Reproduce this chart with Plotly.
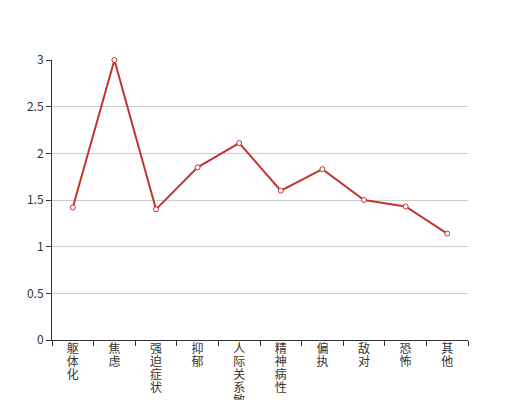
import plotly.graph_objects as go

categories = ["躯体化", "焦虑", "强迫症状", "抑郁", "人际关系敏感", "精神病性", "偏执", "敌对", "恐怖", "其他"]
values = [1.42, 3.0, 1.40, 1.85, 2.11, 1.60, 1.83, 1.50, 1.43, 1.14]
y_ticks = [0, 0.5, 1, 1.5, 2, 2.5, 3]
y_labels = ["0", "0.5", "1", "1.5", "2", "2.5", "3"]

ticktext = ["<br>".join('<span style="font-size:12px">' + ch + '</span>' for ch in c) for c in categories]

fig = go.Figure()
fig.add_trace(go.Scatter(
    x=categories, y=values, mode="lines+markers",
    line=dict(color="#c23531", width=2),
    marker=dict(symbol="circle", size=5, color="white", line=dict(color="#c23531", width=1)),
    hoverinfo="skip", cliponaxis=False,
))
fig.update_layout(
    width=520, height=400,
    margin=dict(l=44, r=60, t=52, b=68, autoexpand=False),
    plot_bgcolor="white", paper_bgcolor="white",
    showlegend=False,
    font=dict(family="Noto Sans CJK SC, Noto Sans, sans-serif", size=12, color="#333"),
)
fig.update_xaxes(
    type="category", tickmode="array", tickvals=categories, ticktext=ticktext,
    tickfont=dict(size=10),
    showline=True, linecolor="#333", linewidth=1, automargin=False,
    ticks="outside", tickson="boundaries", ticklen=5, tickcolor="#333",
    showgrid=False, tickangle=0, range=[-0.5, 9.5],
)
fig.update_yaxes(
    range=[0, 3], tickmode="array", tickvals=y_ticks, ticktext=y_labels,
    showline=True, linecolor="#333", linewidth=1, automargin=False,
    ticks="outside", ticklen=5, tickcolor="#333",
    showgrid=True, gridcolor="#ccc", gridwidth=1, zeroline=False,
)
fig.write_html("out.html")
